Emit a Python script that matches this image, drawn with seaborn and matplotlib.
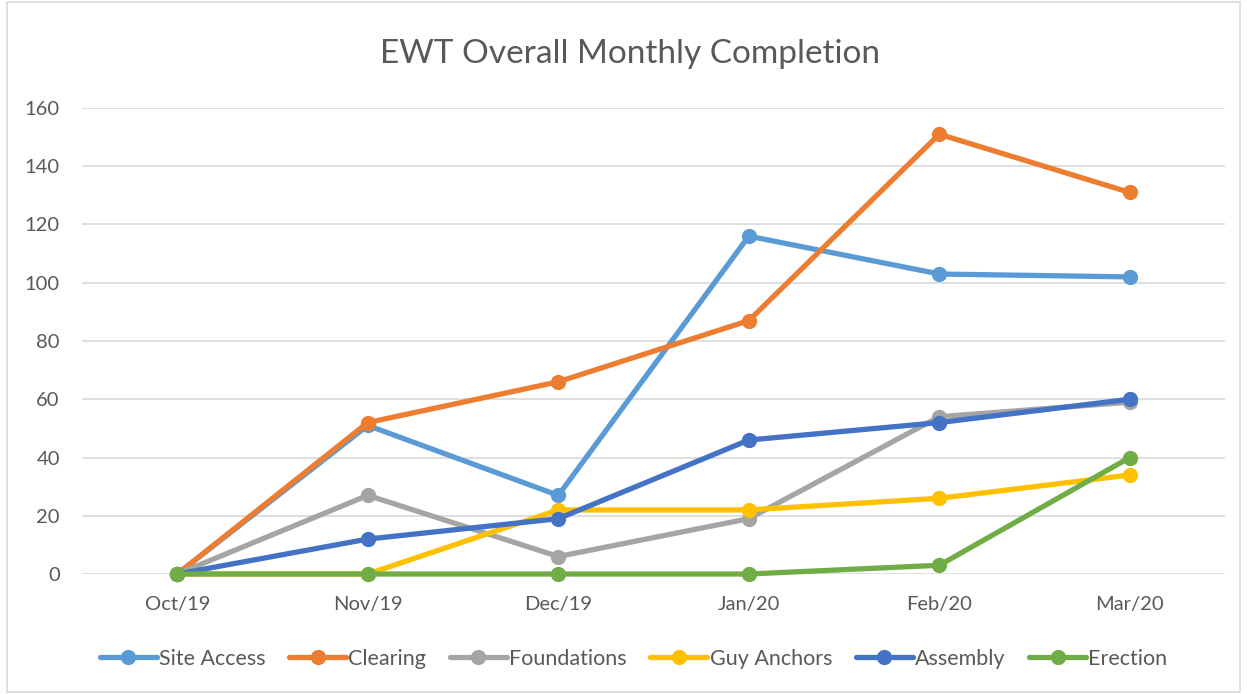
import pandas as pd
import matplotlib.pyplot as plt
import seaborn as sns
from matplotlib.patches import Rectangle

# Data
months = ['Oct/19', 'Nov/19', 'Dec/19', 'Jan/20', 'Feb/20', 'Mar/20']
site_access = [0, 51, 27, 116, 103, 102]
clearing = [0, 52, 66, 87, 151, 131]
foundations = [0, 27, 6, 19, 54, 59]
guy_anchors = [0, 0, 22, 22, 26, 34]
assembly = [0, 12, 19, 46, 52, 60]
erection = [0, 0, 0, 0, 3, 40]

series = {
    'Site Access': site_access,
    'Clearing': clearing,
    'Foundations': foundations,
    'Guy Anchors': guy_anchors,
    'Assembly': assembly,
    'Erection': erection,
}
colors = ['#5B9BD5', '#ED7D31', '#A5A5A5', '#FFC000', '#4472C4', '#70AD47']

rows = []
for name, vals in series.items():
    for m, v in zip(months, vals):
        rows.append({'month': m, 'value': v, 'series': name})
df = pd.DataFrame(rows)

sns.set_theme(style='white')
plt.rcParams['font.family'] = ['Lato', 'DejaVu Sans']

fig = plt.figure(figsize=(12.47, 6.94), dpi=100)
ax = fig.add_axes([0.0658, 0.1729, 0.9166, 0.6715])

sns.lineplot(data=df, x='month', y='value', hue='series', palette=colors,
             marker='o', markersize=11, markeredgewidth=0, linewidth=3.8,
             sort=False, ax=ax, legend=True, clip_on=False)

ax.set_xlim(-0.5, 5.5)
ax.set_ylim(0, 160)
ax.set_yticks(range(0, 161, 20))
ax.yaxis.grid(True, color='#D9D9D9', linewidth=1.2)
ax.set_axisbelow(True)
for s in ax.spines.values():
    s.set_visible(False)
ax.tick_params(axis='both', length=0, labelsize=14.5, colors='#595959')
ax.tick_params(axis='y', pad=16)
ax.tick_params(axis='x', pad=16)
ax.set_xlabel('')
ax.set_ylabel('')

fig.text(0.505, 0.922, 'EWT Overall Monthly Completion', ha='center', va='center',
         fontsize=24, color='#595959')

handles, labels = ax.get_legend_handles_labels()
ax.legend_.remove()
fig.legend(handles, labels, loc='center', bbox_to_anchor=(0.508, 0.051), ncol=6,
           frameon=False, fontsize=15.5, handlelength=2.65, columnspacing=1.1,
           handletextpad=0.1, labelcolor='#595959')

fig.patches.append(Rectangle((0.006, 0.003), 0.988, 0.994, transform=fig.transFigure,
                             fill=False, edgecolor='#D9D9D9', linewidth=1.2))

fig.savefig('out.png', dpi=100)
